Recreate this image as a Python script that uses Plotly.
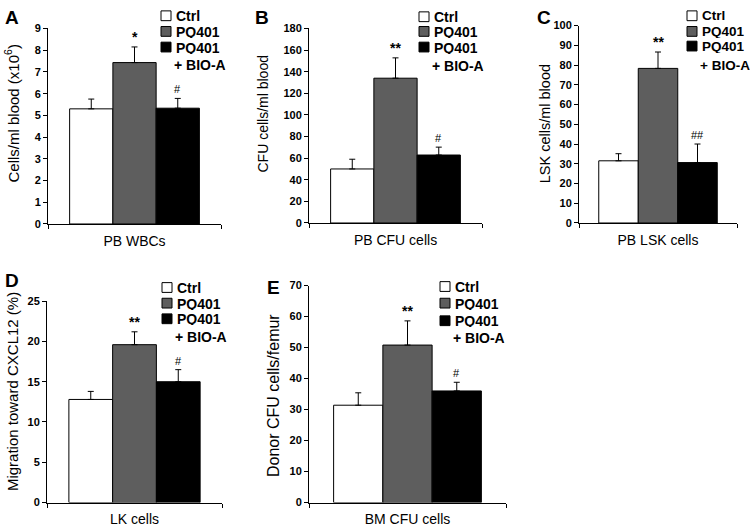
import plotly.graph_objects as go

# ---------------- data ----------------
categories = ["PB WBCs", "PB CFU cells", "PB LSK cells", "LK cells", "BM CFU cells"]
panel_letters = ["A", "B", "C", "D", "E"]
y_titles = ["Cells/ml blood (x10<sup>6</sup>)", "CFU cells/ml blood", "LSK cells/ml blood",
            "Migration toward CXCL12 (%)", "Donor CFU cells/femur"]
groups = ["Ctrl", "PQ401", "PQ401", "+ BIO-A"]
ctrl_mean = [5.30, 50.0, 31.5, 12.8, 31.4]
ctrl_err = [0.45, 9.0, 3.6, 1.0, 4.0]
pq401_mean = [7.43, 134.0, 78.3, 19.6, 50.8]
pq401_err = [0.72, 18.8, 8.3, 1.6, 7.8]
bioa_mean = [5.33, 62.9, 30.6, 15.0, 36.0]
bioa_err = [0.45, 7.3, 9.4, 1.5, 2.8]
pq401_sig = ["*", "**", "**", "**", "**"]
bioa_sig = ["#", "#", "##", "#", "#"]
y_max = [9, 180, 100, 25, 70]
y_step = [1, 20, 10, 5, 10]

# ---------------- layout / style ----------------
W, H = 753, 532
FONT = "Arial, Liberation Sans, sans-serif"
bar_colors = ["#ffffff", "#5e5e5e", "#000000"]

# plot boxes in pixels: (left, right, top, bottom)
boxes = [(48, 221, 23, 223), (309, 482, 23, 222), (579, 737, 20, 222),
         (47, 222, 302, 508), (309, 506, 286, 508)]
# y title: (center x, center y, font size)
ytitle_pos = [(12, 110, 15), (263, 111, 14), (545, 121, 14.5), (12, 395, 15), (273, 399, 16)]
# panel letter position (left x, center y)
letter_pos = [(3, 12), (253, 12), (535, 12), (3, 281), (265, 288)]
# legend: (swatch left, row centers, font size)
legend_pos = [(161, [10, 26, 42, 60], 14), (419, [11, 26, 42, 61], 14),
              (687, [10, 26, 41, 61], 13.5),
              (162, [288, 304, 320, 338], 14), (440, [287, 304, 322, 339], 14)]


def fx(p):
    return p / W


def fy(p):
    return 1 - p / H


fig = go.Figure()
annotations = []
shapes = []
positions = [0, 1, 2]

for i in range(5):
    n = "" if i == 0 else str(i + 1)
    xa, ya = "x" + n, "y" + n
    means = [ctrl_mean[i], pq401_mean[i], bioa_mean[i]]
    errs = [ctrl_err[i], pq401_err[i], bioa_err[i]]
    fig.add_trace(go.Bar(
        x=positions, y=means, width=1,
        marker=dict(color=bar_colors, line=dict(color="black", width=1)),
        error_y=dict(type="data", array=errs, arrayminus=[0, 0, 0], symmetric=False,
                     color="black", thickness=1, width=3),
        xaxis=xa, yaxis=ya, showlegend=False, hoverinfo="skip"))

    l, r, t, b = boxes[i]
    fig.layout["xaxis" + n] = dict(
        domain=[fx(l), fx(r)], anchor=ya, range=[-1, 3], showgrid=False, zeroline=False,
        showline=True, linecolor="black", linewidth=1,
        tickmode="array", tickvals=[1], ticktext=[categories[i]],
        ticks="outside", ticklen=4, tickcolor="rgba(0,0,0,0)",
        tickfont=dict(family=FONT, size=14, color="black"),
        minor=dict(tickmode="array", tickvals=[-1, 3], ticks="outside", ticklen=4,
                   tickcolor="black", tickwidth=1, showgrid=False),
        fixedrange=True)
    fig.layout["yaxis" + n] = dict(
        domain=[fy(b), fy(t)], anchor=xa, range=[0, y_max[i]], dtick=y_step[i], tick0=0,
        showgrid=False, zeroline=False, showline=True, linecolor="black", linewidth=1,
        ticks="outside", ticklen=4, tickcolor="black",
        tickfont=dict(family=FONT, size=11, color="black", weight="bold"),
        fixedrange=True)

    # significance marks
    annotations.append(dict(x=1, y=pq401_mean[i] + pq401_err[i], xref=xa, yref=ya,
                            text=pq401_sig[i], showarrow=False, yanchor="bottom",
                            font=dict(family=FONT, size=14, color="black", weight="bold")))
    annotations.append(dict(x=2, y=bioa_mean[i] + bioa_err[i], xref=xa, yref=ya,
                            text=bioa_sig[i], showarrow=False, yanchor="bottom", yshift=1,
                            font=dict(family=FONT, size=11, color="black")))

    # y title
    tx, ty, ts = ytitle_pos[i]
    annotations.append(dict(x=fx(tx), y=fy(ty), xref="paper", yref="paper", text=y_titles[i],
                            textangle=-90, showarrow=False, xanchor="center", yanchor="middle",
                            font=dict(family=FONT, size=ts, color="black")))
    # panel letter
    lx, ly = letter_pos[i]
    annotations.append(dict(x=fx(lx), y=fy(ly), xref="paper", yref="paper", text=panel_letters[i],
                            showarrow=False, xanchor="left", yanchor="middle",
                            font=dict(family=FONT, size=19, color="black", weight="bold")))
    # legend
    sx, rows, fs = legend_pos[i]
    for k in range(3):
        shapes.append(dict(type="rect", xref="paper", yref="paper",
                           x0=fx(sx), x1=fx(sx + 10), y0=fy(rows[k] + 5), y1=fy(rows[k] - 5),
                           fillcolor=bar_colors[k], line=dict(color="black", width=1)))
    for k in range(4):
        annotations.append(dict(x=fx(sx + (14 if k < 3 else 12)), y=fy(rows[k]), xref="paper",
                                yref="paper", text=groups[k], showarrow=False,
                                xanchor="left", yanchor="middle", height=13, borderpad=0,
                                font=dict(family=FONT, size=fs, color="black", weight="bold")))

fig.update_layout(width=W, height=H, margin=dict(l=0, r=0, t=0, b=0),
                  paper_bgcolor="white", plot_bgcolor="white",
                  annotations=annotations, shapes=shapes, showlegend=False)

fig.write_html("out.html", config={"displayModeBar": False},
               post_script="document.body.style.margin='0';document.body.style.padding='0';")
